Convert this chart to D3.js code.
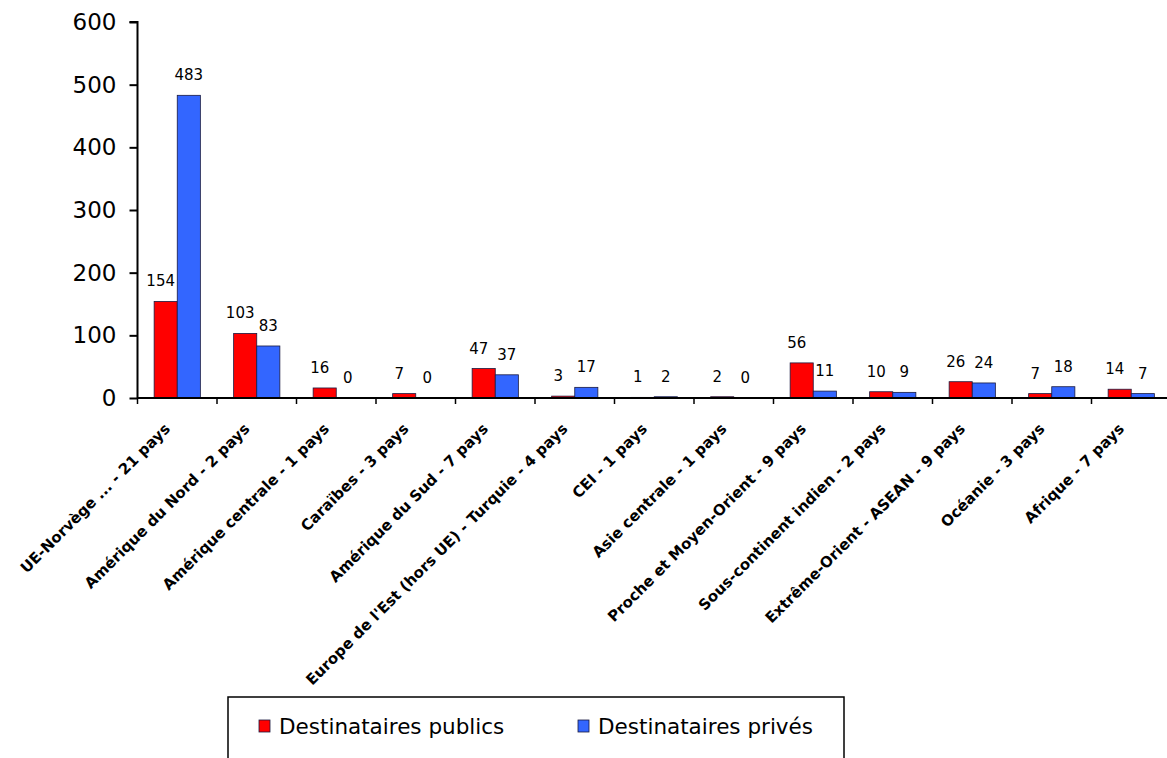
<!DOCTYPE html>
<html>
<head>
<meta charset="utf-8">
<script src="https://cdn.jsdelivr.net/npm/d3@7"></script>
<style>
  body { margin: 0; background: #fff; }
  text { font-family: "DejaVu Sans", Verdana, sans-serif; }
</style>
</head>
<body>
<div id="viz"></div>
<script>
// data
var categories = [
  "UE-Norvège ... - 21 pays",
  "Amérique du Nord - 2 pays",
  "Amérique centrale - 1 pays",
  "Caraïbes - 3 pays",
  "Amérique du Sud - 7 pays",
  "Europe de l'Est (hors UE) - Turquie - 4 pays",
  "CEI - 1 pays",
  "Asie centrale - 1 pays",
  "Proche et Moyen-Orient - 9 pays",
  "Sous-continent indien - 2 pays",
  "Extrême-Orient - ASEAN - 9 pays",
  "Océanie - 3 pays",
  "Afrique - 7 pays"
];
var publics = [154, 103, 16, 7, 47, 3, 1, 2, 56, 10, 26, 7, 14];
var prives  = [483, 83, 0, 0, 37, 17, 2, 0, 11, 9, 24, 18, 7];
var seriesNames = ["Destinataires publics", "Destinataires privés"];
var seriesColors = ["#ff0000", "#3366ff"];
var yTicks = [0, 100, 200, 300, 400, 500, 600];

var W = 1167, H = 758;
var mLeft = 137.5, mTop = 22, mBottom = 398, mRight = 1171;

var svg = d3.select('#viz')
    .append('svg')
    .attr('width', W)
    .attr('height', H);

var x = d3.scaleBand()
    .domain(categories)
    .range([mLeft, mRight])
    .paddingInner(0).paddingOuter(0);

var x1 = d3.scaleBand()
    .domain([0, 1])
    .range([0, x.bandwidth()])
    .paddingInner(0).paddingOuter(0.72);

var y = d3.scaleLinear()
    .domain([0, 600])
    .range([mBottom, mTop]);

var rows = categories.map(function(c, i){
    return {cat: c, vals: [publics[i], prives[i]]};
});

// bars
var groups = svg.selectAll('g.cat')
    .data(rows)
    .enter().append('g')
    .attr('class', 'cat')
    .attr('transform', function(d){ return 'translate(' + x(d.cat) + ',0)'; });

groups.selectAll('rect')
    .data(function(d){ return d.vals.map(function(v, k){ return {k: k, v: v}; }); })
    .enter().append('rect')
    .attr('x', function(d){ return x1(d.k); })
    .attr('width', x1.bandwidth())
    .attr('y', function(d){ return y(d.v); })
    .attr('height', function(d){ return y(0) - y(d.v); })
    .style('fill', function(d){ return seriesColors[d.k]; })
    .style('stroke', '#1a1a40')
    .style('stroke-width', 0.8);

// value labels
groups.selectAll('text.val')
    .data(function(d){ return d.vals.map(function(v, k){ return {k: k, v: v}; }); })
    .enter().append('text')
    .attr('class', 'val')
    .attr('x', function(d){ return x1(d.k) + x1.bandwidth() / 2 + (d.k === 0 ? -5 : 0); })
    .attr('y', function(d){ return y(d.v) - 15; })
    .attr('text-anchor', 'middle')
    .style('font-size', '15px')
    .style('fill', '#000')
    .text(function(d){ return d.v; });

// y axis
var yAxis = svg.append('g')
    .attr('transform', 'translate(' + mLeft + ',0)')
    .call(d3.axisLeft(y).tickValues(yTicks).tickSize(8).tickPadding(13));
yAxis.select('.domain').attr('d', 'M-8,' + mTop + 'H0V' + mBottom).style('stroke', '#000').style('stroke-width', 2);
yAxis.selectAll('.tick line').style('stroke', '#000').style('stroke-width', 2);
yAxis.selectAll('.tick text')
    .style('font-size', '23px')
    .style('font-family', '"DejaVu Sans", Verdana, sans-serif')
    .style('fill', '#000');

// x axis with ticks at category boundaries
var xAxis = svg.append('g')
    .attr('transform', 'translate(0,' + mBottom + ')');
xAxis.append('line')
    .attr('x1', mLeft).attr('x2', mRight)
    .attr('y1', 0).attr('y2', 0)
    .style('stroke', '#000').style('stroke-width', 2);
xAxis.selectAll('line.tk')
    .data(categories)
    .enter().append('line')
    .attr('class', 'tk')
    .attr('x1', function(d){ return x(d); })
    .attr('x2', function(d){ return x(d); })
    .attr('y1', 0).attr('y2', 6)
    .style('stroke', '#000').style('stroke-width', 1.5);

xAxis.selectAll('text.cat')
    .data(categories)
    .enter().append('text')
    .attr('class', 'cat')
    .attr('transform', function(d){
        return 'translate(' + (x(d) + x.bandwidth() / 2 - 10) + ',28) rotate(-45)';
    })
    .attr('text-anchor', 'end')
    .attr('dy', '0.35em')
    .style('font-size', '15px')
    .style('font-weight', 'bold')
    .style('fill', '#000')
    .text(function(d){ return d; });

// legend
var legend = svg.append('g');
legend.append('rect')
    .attr('x', 228).attr('y', 697)
    .attr('width', 616).attr('height', 70)
    .style('fill', '#fff')
    .style('stroke', '#000')
    .style('stroke-width', 1.5);

var legItems = legend.selectAll('g.item')
    .data(seriesNames)
    .enter().append('g')
    .attr('class', 'item')
    .attr('transform', function(d, i){ return 'translate(' + (259 + i * 319) + ',720)'; });
legItems.append('rect')
    .attr('width', 11).attr('height', 12)
    .style('fill', function(d, i){ return seriesColors[i]; })
    .style('stroke', '#1a1a40')
    .style('stroke-width', 0.8);
legItems.append('text')
    .attr('x', 20).attr('y', 6)
    .attr('dy', '0.35em')
    .style('font-size', '21.5px')
    .style('fill', '#000')
    .text(function(d){ return d; });
</script>
</body>
</html>
